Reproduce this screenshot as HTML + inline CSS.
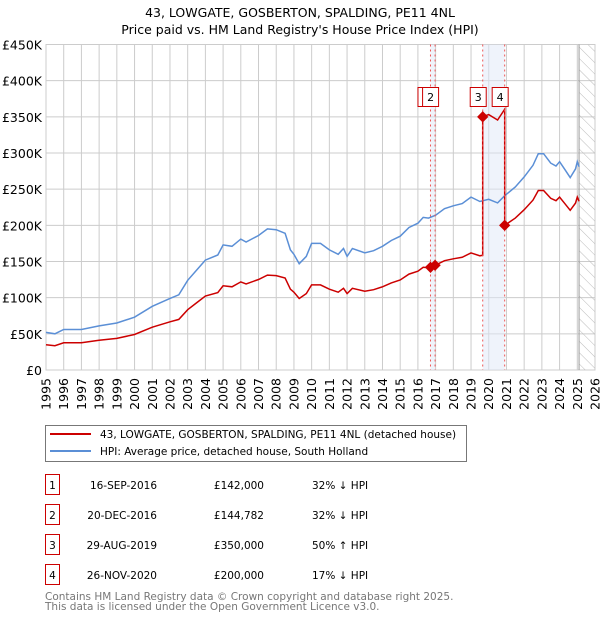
<!DOCTYPE html>
<html><head><meta charset="utf-8">
<style>
body{margin:0;background:#fff;font-family:"DejaVu Sans","Liberation Sans",sans-serif;}
#wrap{position:relative;width:600px;height:620px;overflow:hidden;}
</style></head>
<body>
<div id="wrap">
<svg id="chart" width="600" height="620" xmlns="http://www.w3.org/2000/svg" style="font-family:'DejaVu Sans','Liberation Sans',sans-serif">
<text x="300" y="17" text-anchor="middle" font-size="12.5">43, LOWGATE, GOSBERTON, SPALDING, PE11 4NL</text>
<text x="300" y="34" text-anchor="middle" font-size="12.5">Price paid vs. HM Land Registry's House Price Index (HPI)</text>
<g id="grid"></g><g id="bands"></g><g id="series"></g><g id="marks"></g><g id="axes"></g>
<g>
<rect x="45.5" y="425.5" width="421" height="36" fill="#fff" stroke="#777"/>
<line x1="50" y1="434" x2="91" y2="434" stroke="#cc0000" stroke-width="2"/>
<text x="100" y="438" font-size="10.5">43, LOWGATE, GOSBERTON, SPALDING, PE11 4NL (detached house)</text>
<line x1="50" y1="451" x2="91" y2="451" stroke="#5b8fd6" stroke-width="2"/>
<text x="100" y="455" font-size="10.5">HPI: Average price, detached house, South Holland</text>
</g>
<g id="table" font-size="10.5"></g>
<text x="45" y="600" font-size="10.5" fill="#777">Contains HM Land Registry data © Crown copyright and database right 2025.</text>
<text x="45" y="610" font-size="10.5" fill="#777">This data is licensed under the Open Government Licence v3.0.</text>
</svg>
</div>
<script>
const hpiYears=[1995.0,1995.5,1996,1997,1998,1999,2000,2001,2002,2002.5,2003,2003.5,2004,2004.7,2005,2005.5,2006,2006.3,2007,2007.5,2008,2008.5,2008.8,2009,2009.3,2009.7,2010,2010.5,2011,2011.5,2011.8,2012,2012.3,2013,2013.5,2014,2014.5,2015,2015.5,2016,2016.3,2016.6,2017,2017.5,2018,2018.5,2019,2019.5,2020,2020.5,2020.9,2021.5,2022,2022.5,2022.8,2023.1,2023.5,2023.8,2024,2024.3,2024.6,2024.9,2025,2025.1];
const hpiValues=[52,50,56,56,61,65,73,88,99,104,124,138,152,159,173,171,181,177,186,195,194,189,166,160,147,157,175,175,166,160,168,157,168,162,165,171,179,185,197,203,211,210,214,223,227,230,239,233,236,231,241,253,267,283,299,299,286,282,288,277,266,278,288,281];
const saleLabels=["1","2","3","4"];
const saleDates=[2016.71,2016.97,2019.66,2020.9];
const salePrices=[142000,144782,350000,200000];
const saleDateText=["16-SEP-2016","20-DEC-2016","29-AUG-2019","26-NOV-2020"];
const saleHpiText=["32% \u2193 HPI","32% \u2193 HPI","50% \u2191 HPI","17% \u2193 HPI"];
const yTicks=[0,50,100,150,200,250,300,350,400,450];
const yTickLabels=["£0","£50K","£100K","£150K","£200K","£250K","£300K","£350K","£400K","£450K"];

const NS="http://www.w3.org/2000/svg";
const X0=46,X1=595,Y0=370,Y1=44.5;
const xs=y=>X0+(y-1995)/(2026-1995)*(X1-X0);
const ys=v=>Y0-v/450*(Y0-Y1);
function mk(tag,attrs,parent){const e=document.createElementNS(NS,tag);for(const k in attrs)e.setAttribute(k,attrs[k]);parent.appendChild(e);return e;}
const G=id=>document.getElementById(id);

for(let i=0;i<yTicks.length;i++){
  const y=ys(yTicks[i]);
  const l=mk('line',{x1:X0,x2:X1,y1:y,y2:y,stroke:'#cccccc','stroke-width':1},G('grid'));
  
  
  const t=mk('text',{x:X0-4,y:y+5,'text-anchor':'end','font-size':12.5},G('axes'));
  t.textContent=yTickLabels[i];
  
  
}
for(let yr=1995;yr<=2026;yr++){
  const x=xs(yr);
  const l=mk('line',{x1:x,x2:x,y1:Y1,y2:Y0,stroke:'#cccccc','stroke-width':1},G('grid'));
  
  
  const t=mk('text',{x:0,y:0,'font-size':12.5,'text-anchor':'end',transform:`translate(${x+4.5},378) rotate(-90)`},G('axes'));
  t.textContent=yr;
  
  
}
const defs=mk('defs',{},G('chart'));
const pat=mk('pattern',{id:'hatch',width:8,height:8,patternUnits:'userSpaceOnUse',patternTransform:'rotate(-45)'},defs);
mk('line',{x1:0,y1:0,x2:0,y2:8,stroke:'#bbb','stroke-width':1},pat);
const hx=xs(2025.1);
const hr=mk('rect',{x:hx,y:Y1,width:X1-hx,height:Y0-Y1,fill:'url(#hatch)'},G('bands'));


mk('line',{x1:hx,x2:hx,y1:Y1,y2:Y0,stroke:'#999'},G('bands'));
[[0,1],[2,3]].forEach(p=>{
  const b=mk('rect',{x:xs(saleDates[p[0]]),y:Y1,width:xs(saleDates[p[1]])-xs(saleDates[p[0]]),height:Y0-Y1,fill:'#dfe8f8','fill-opacity':0.5},G('bands'));
  
  
});
mk('rect',{x:X0,y:Y1,width:X1-X0,height:Y0-Y1,fill:'none',stroke:'#cccccc'},G('grid'));

function hpiAt(t){
  if(t<=hpiYears[0])return hpiValues[0];
  for(let i=1;i<hpiYears.length;i++){if(t<=hpiYears[i]){const f=(t-hpiYears[i-1])/(hpiYears[i]-hpiYears[i-1]);return hpiValues[i-1]+f*(hpiValues[i]-hpiValues[i-1]);}}
  return hpiValues[hpiValues.length-1];
}
let d=hpiYears.map((y,i)=>(i?'L':'M')+xs(y).toFixed(1)+','+ys(hpiValues[i]).toFixed(1)).join('');
const hp=mk('path',{d:d,fill:'none',stroke:'#5b8fd6','stroke-width':1.5},G('series'));


const ratios=salePrices.map((p,i)=>p/1000/hpiAt(saleDates[i]));
function ratioIdx(t){let k=0;for(let i=0;i<saleDates.length;i++)if(t>=saleDates[i])k=i;return k;}
let pts=[];
hpiYears.forEach((y,i)=>pts.push([y,hpiValues[i]*ratios[ratioIdx(y)]]));
saleDates.forEach((s,i)=>{const h=hpiAt(s);pts.push([s-1e-6,h*ratios[i>0?i-1:0]]);pts.push([s,h*ratios[i]]);});
pts.sort((a,b)=>a[0]-b[0]);
d=pts.map((p,i)=>(i?'L':'M')+xs(p[0]).toFixed(1)+','+ys(p[1]).toFixed(1)).join('');
const rp=mk('path',{d:d,fill:'none',stroke:'#cc0000','stroke-width':1.5},G('series'));


saleDates.forEach((s,i)=>{
  const x=xs(s);
  const vl=mk('line',{x1:x,x2:x,y1:Y1,y2:Y0,stroke:'#ee5555','stroke-width':1,'stroke-dasharray':'2,3'},G('marks'));
  
  
  const dm=mk('rect',{x:x-4,y:ys(salePrices[i]/1000)-4,width:8,height:8,fill:'#cc0000',transform:`rotate(45 ${x} ${ys(salePrices[i]/1000)})`},G('marks'));
  
  
  const bx=mk('rect',{x:x-12.5,y:87.5,width:16,height:19,fill:'#fff',stroke:'#cc0000'},G('marks'));
  
  
  const bt=mk('text',{x:x-4.5,y:101,'text-anchor':'middle','font-size':11},G('marks'));
  bt.textContent=saleLabels[i];
  
  
});
saleDates.forEach((s,i)=>{
  const cy=485+i*30;
  const b=mk('rect',{x:45.5,y:cy-10.5,width:14,height:20,fill:'none',stroke:'#cc0000'},G('table'));
  
  
  const cols=[[52.5,'middle',saleLabels[i]],[157,'end',saleDateText[i]],[264,'end','£'+salePrices[i].toLocaleString('en-GB')],[312,'start',saleHpiText[i]]];
  cols.forEach((c,j)=>{
    const t=mk('text',{x:c[0],y:cy+4,'text-anchor':c[1]},G('table'));
    t.textContent=c[2];
    
    
  });
});
</script>
</body></html>
